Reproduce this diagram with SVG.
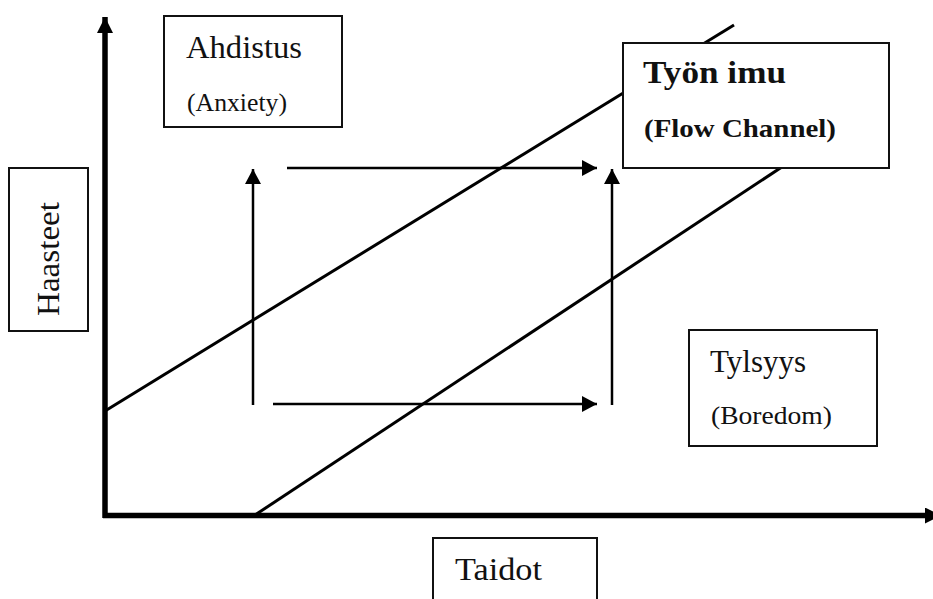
<svg xmlns="http://www.w3.org/2000/svg" width="933" height="599" viewBox="0 0 933 599">
<style>
.bg{fill:#fff}
.box{fill:#fff;stroke:#111;stroke-width:2}
.t{font-family:"Liberation Serif","Times New Roman",serif;fill:#111}
.big{font-size:32px}
.small{font-size:26px}
.b{font-weight:bold}
.axis{stroke:#000;stroke-width:5.5;fill:none}
.diag{stroke:#000;stroke-width:3;fill:none}
.arr{stroke:#000;stroke-width:2.5;fill:none}
</style>
<defs>
<marker id="ah" viewBox="0 0 15 16" refX="15" refY="8" markerWidth="15" markerHeight="16" markerUnits="userSpaceOnUse" orient="auto">
<path d="M0,0 L15,8 L0,16 z" fill="#000"/>
</marker>
<marker id="axh" viewBox="0 0 16 16" refX="16" refY="8" markerWidth="16" markerHeight="16" markerUnits="userSpaceOnUse" orient="auto">
<path d="M0,0 L16,8 L0,16 z" fill="#000"/>
</marker>
</defs>
<rect class="bg" x="0" y="0" width="933" height="599"/>
<g id="connectors">
<line class="axis" x1="105" y1="518" x2="105" y2="17" marker-end="url(#axh)"/>
<line class="axis" x1="103" y1="515.5" x2="941" y2="515.5" marker-end="url(#axh)"/>
<line class="diag" x1="105" y1="411" x2="734" y2="25"/>
<line class="diag" x1="255" y1="515" x2="800" y2="155"/>
<line class="arr" x1="253" y1="405" x2="253" y2="169" marker-end="url(#ah)"/>
<line class="arr" x1="612" y1="405" x2="612" y2="169" marker-end="url(#ah)"/>
<line class="arr" x1="287" y1="168" x2="597" y2="168" marker-end="url(#ah)"/>
<line class="arr" x1="273" y1="404" x2="597" y2="404" marker-end="url(#ah)"/>
</g>
<g id="anxiety">
<rect class="box" x="164" y="16" width="178" height="111"/>
<text class="t big" x="186" y="58" textLength="116" lengthAdjust="spacingAndGlyphs">Ahdistus</text>
<text class="t small" x="187" y="111" textLength="100" lengthAdjust="spacingAndGlyphs">(Anxiety)</text>
</g>
<g id="flow">
<rect class="box" x="623" y="43" width="266" height="125"/>
<text class="t big b" x="643" y="83" textLength="143" lengthAdjust="spacingAndGlyphs">Työn imu</text>
<text class="t b" style="font-size:25px" x="644" y="137" textLength="192" lengthAdjust="spacingAndGlyphs">(Flow Channel)</text>
</g>
<g id="challenges">
<rect class="box" x="9" y="168" width="79" height="163"/>
<text class="t big" x="59" y="316" transform="rotate(-90 59 316)" textLength="114" lengthAdjust="spacingAndGlyphs">Haasteet</text>
</g>
<g id="boredom">
<rect class="box" x="689" y="330" width="188" height="116"/>
<text class="t big" x="710" y="372" textLength="96" lengthAdjust="spacingAndGlyphs">Tylsyys</text>
<text class="t small" x="711" y="424" textLength="121" lengthAdjust="spacingAndGlyphs">(Boredom)</text>
</g>
<g id="skills">
<rect class="box" x="433" y="538" width="164" height="70"/>
<text class="t big" x="455" y="580" textLength="87" lengthAdjust="spacingAndGlyphs">Taidot</text>
</g>
</svg>
